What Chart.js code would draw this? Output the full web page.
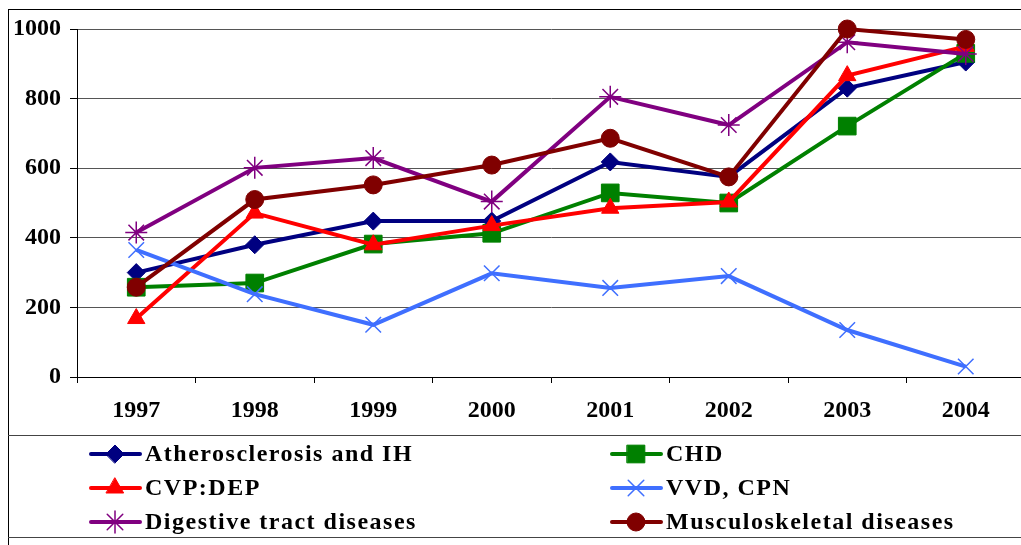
<!DOCTYPE html>
<html>
<head>
<meta charset="utf-8">
<script src="https://cdn.jsdelivr.net/npm/chart.js@4/dist/chart.umd.min.js"></script>
<style>
  html, body { margin: 0; padding: 0; background: #fff; overflow: hidden; }
  #wrap { width: 1040px; height: 545px; }
</style>
</head>
<body>
<div id="wrap"><canvas id="chart" width="1040" height="545"></canvas></div>
<script>
// --- data ---
const years = ['1997', '1998', '1999', '2000', '2001', '2002', '2003', '2004'];
const yTicks = [0, 200, 400, 600, 800, 1000];

const atherosclerosis = [300, 380, 448, 448, 618, 575, 830, 905];
const chd = [258, 270, 382, 413, 529, 500, 721, 930];
const cvpDep = [168, 471, 380, 435, 485, 503, 866, 950];
const vvdCpn = [365, 238, 150, 298, 256, 290, 135, 30];
const digestive = [415, 601, 629, 504, 805, 724, 962, 928];
const musculo = [258, 510, 552, 609, 686, 575, 1000, 970];

const serieNames = ['Atherosclerosis and IH', 'CHD', 'CVP:DEP', 'VVD, CPN', 'Digestive tract diseases', 'Musculoskeletal diseases'];
const serieColors = ['#000080', '#008000', '#FF0000', '#3F6FFF', '#800080', '#800000'];

const FONT = 'Liberation Serif';

function serie(i, values, style, radius, bw) {
    return {
        label: serieNames[i],
        data: values,
        borderColor: serieColors[i],
        backgroundColor: serieColors[i],
        borderWidth: 4,
        tension: 0,
        pointStyle: style,
        pointRadius: radius,
        pointHoverRadius: radius,
        pointBorderWidth: bw,
        pointBackgroundColor: serieColors[i],
        pointBorderColor: serieColors[i],
        clip: false,
        order: 6 - i // later series drawn on top, like the original
    };
}

// frame lines around the chart and legend box
const frame = {
    id: 'frame',
    beforeDraw(chart) {
        const ctx = chart.ctx;
        ctx.save();
        ctx.fillStyle = '#fff';
        ctx.fillRect(0, 0, chart.width, chart.height);
        ctx.strokeStyle = '#000';
        ctx.lineWidth = 1;
        ctx.strokeRect(8.5, 9.5, chart.width + 20, chart.height + 20);
        ctx.strokeStyle = '#444';
        ctx.beginPath();
        ctx.moveTo(8, 435.5); ctx.lineTo(chart.width, 435.5);
        ctx.moveTo(8, 537.5); ctx.lineTo(chart.width, 537.5);
        ctx.stroke();
        ctx.restore();
    }
};

// two-column legend, built from the datasets
const legendBox = {
    id: 'legendBox',
    afterDraw(chart) {
        const ctx = chart.ctx;
        chart.data.datasets.forEach((ds, i) => {
            const x0 = (i % 2 === 0) ? 91 : 612;
            const y = 454 + Math.floor(i / 2) * 34;
            ctx.save();
            ctx.strokeStyle = ds.borderColor;
            ctx.lineWidth = 4;
            ctx.lineCap = 'round';
            ctx.beginPath();
            ctx.moveTo(x0, y); ctx.lineTo(x0 + 49, y);
            ctx.stroke();
            ctx.fillStyle = ds.pointBackgroundColor;
            ctx.strokeStyle = ds.pointBorderColor;
            ctx.lineWidth = ds.pointBorderWidth;
            Chart.helpers.drawPoint(ctx, {
                pointStyle: ds.pointStyle,
                radius: ds.pointRadius,
                borderWidth: ds.pointBorderWidth,
                rotation: 0
            }, x0 + 24, y);
            ctx.fillStyle = '#000';
            ctx.font = 'bold 24px "' + FONT + '"';
            ctx.letterSpacing = '1.5px';
            ctx.textBaseline = 'middle';
            ctx.fillText(ds.label, x0 + 54, y + 1);
            ctx.restore();
        });
    }
};

const ctx = document.getElementById('chart').getContext('2d');
const chart = new Chart(ctx, {
    type: 'line',
    data: {
        labels: years,
        datasets: [
            serie(0, atherosclerosis, 'rectRot', 9, 1),
            serie(1, chd, 'rect', 12.5, 1),
            serie(2, cvpDep, 'triangle', 10, 1),
            serie(3, vvdCpn, 'crossRot', 11, 1.5),
            serie(4, digestive, 'star', 11, 1.5),
            serie(5, musculo, 'circle', 9, 1)
        ]
    },
    options: {
        responsive: false,
        devicePixelRatio: 1,
        animation: false,
        events: [],
        layout: { padding: { left: 0, top: 29, right: 15, bottom: 0 } },
        plugins: {
            legend: { display: false },
            tooltip: { enabled: false }
        },
        scales: {
            x: {
                offset: true,
                grid: {
                    offset: true,
                    drawOnChartArea: false,
                    tickLength: 6,
                    tickColor: '#000'
                },
                border: { color: '#000', width: 1 },
                ticks: {
                    color: '#000',
                    padding: 13,
                    maxRotation: 0,
                    font: { family: FONT, size: 24, weight: 'bold' }
                },
                afterFit(scale) { scale.height = 168; }
            },
            y: {
                min: 0,
                max: 1000,
                afterBuildTicks(scale) { scale.ticks = yTicks.map(v => ({ value: v })); },
                grid: {
                    color: '#555',
                    lineWidth: 1,
                    tickLength: 7,
                    tickColor: '#000'
                },
                border: { color: '#000', width: 1 },
                ticks: {
                    color: '#000',
                    padding: 9,
                    callback: v => String(v),
                    font: { family: FONT, size: 24, weight: 'bold' }
                },
                afterFit(scale) { scale.width = 77; }
            }
        }
    },
    plugins: [frame, legendBox]
});
</script>
</body>
</html>
